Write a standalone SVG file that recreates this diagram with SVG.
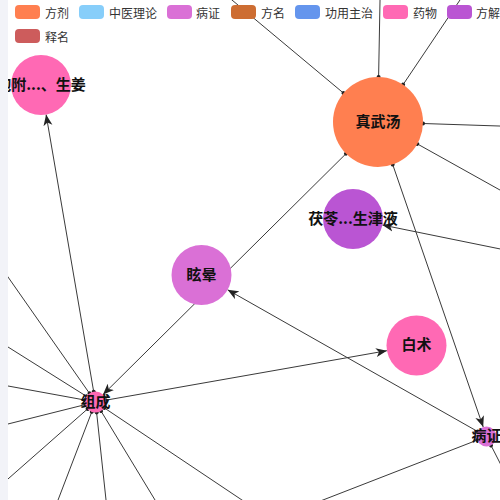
<svg xmlns="http://www.w3.org/2000/svg" width="500" height="500" viewBox="0 0 500 500">
  <style>
    .edge { stroke: #3a3a3a; stroke-width: 1; fill: none; }
    .lbl { font-family: "Noto Sans CJK SC", "Noto Sans", sans-serif; font-size: 15px; font-weight: bold; fill: #111; text-anchor: middle; dominant-baseline: central; }
    .lg { font-family: "Noto Sans CJK SC", "Noto Sans", sans-serif; font-size: 12px; fill: #333; dominant-baseline: central; }
  </style>
  <defs>
    <marker id="arrow" viewBox="-11 -5 12 10" refX="0" refY="0" markerWidth="12" markerHeight="10" markerUnits="userSpaceOnUse" orient="auto">
      <path d="M0,0 L-11,-4.5 L-8,0 L-11,4.5 Z" fill="#222"/>
    </marker>
    <marker id="dot" viewBox="-3 -3 6 6" refX="0" refY="0" markerWidth="6" markerHeight="6" markerUnits="userSpaceOnUse" orient="auto">
      <circle cx="0" cy="0" r="2" fill="#222"/>
    </marker>
  </defs>
  <rect x="0" y="0" width="500" height="500" fill="#ffffff"/>

  <g id="connectors">
    <path class="edge" marker-start="url(#dot)" marker-end="url(#arrow)" d="M346.0,153.7 L103.0,394.6"/>
    <path class="edge" marker-start="url(#dot)" marker-end="url(#arrow)" d="M105.8,400.2 L386.9,350.7"/>
    <path class="edge" marker-start="url(#dot)" marker-end="url(#arrow)" d="M93.7,391.7 L46.1,114.6"/>
    <path class="edge" marker-start="url(#dot)" marker-end="url(#arrow)" d="M477.8,431.6 L227.6,289.8"/>
    <path class="edge" marker-start="url(#dot)" marker-end="url(#arrow)" d="M392.7,164.5 L483.2,427.0"/>
    <path class="edge" marker-end="url(#arrow)" d="M520,253 L382.4,225"/>
    <path class="edge" marker-start="url(#dot)" d="M343.5,93.1 L220,-10"/>
    <path class="edge" marker-start="url(#dot)" d="M378.6,77 L380.2,-10"/>
    <path class="edge" marker-start="url(#dot)" d="M403.1,84.6 L466.7,-10"/>
    <path class="edge" marker-start="url(#dot)" d="M423,123.5 L520,126.7"/>
    <path class="edge" marker-start="url(#dot)" d="M417.3,143.9 L520,201.2"/>
    <path class="edge" marker-start="url(#dot)" d="M89.5,393.4 L-10,251.3"/>
    <path class="edge" marker-start="url(#dot)" d="M86.6,396.4 L-10,335.7"/>
    <path class="edge" marker-start="url(#dot)" d="M85.2,400.1 L-10,382.7"/>
    <path class="edge" marker-start="url(#dot)" d="M85.3,404.6 L-10,428.5"/>
    <path class="edge" marker-start="url(#dot)" d="M87.6,408.9 L-10,494.8"/>
    <path class="edge" marker-start="url(#dot)" d="M91.8,411.8 L54.2,510"/>
    <path class="edge" marker-start="url(#dot)" d="M96.6,412.4 L107.1,510"/>
    <path class="edge" marker-start="url(#dot)" d="M101,411 L161.1,510"/>
    <path class="edge" marker-start="url(#dot)" d="M104.2,407.8 L256.9,510"/>
    <path class="edge" marker-start="url(#dot)" d="M477.2,440.1 L297.2,510"/>
    <path class="edge" marker-start="url(#dot)" d="M491,445.4 L520,502.2"/>
  </g>

  <g id="node-zhenwutang">
    <circle cx="378" cy="122" r="45" fill="#FF7F50"/>
    <text class="lbl" x="378" y="120">真武汤</text>
  </g>
  <g id="node-fuling">
    <circle cx="353" cy="219" r="30" fill="#BA55D3"/>
    <text class="lbl" x="353" y="217">茯苓...生津液</text>
  </g>
  <g id="node-fuzi">
    <circle cx="41" cy="85" r="30" fill="#FF69B4"/>
    <text class="lbl" x="41" y="83">炮附...、生姜</text>
  </g>
  <g id="node-xuanyun">
    <circle cx="201.5" cy="275" r="30" fill="#DA70D6"/>
    <text class="lbl" x="201.5" y="273">眩晕</text>
  </g>
  <g id="node-baizhu">
    <circle cx="416.5" cy="345.5" r="30" fill="#FF69B4"/>
    <text class="lbl" x="416.5" y="343.5">白术</text>
  </g>
  <g id="node-zucheng">
    <circle cx="95.5" cy="402" r="10.5" fill="#FF69B4"/>
    <text class="lbl" x="95.5" y="400">组成</text>
  </g>
  <g id="node-bingzheng">
    <circle cx="486.5" cy="436.5" r="10" fill="#DA70D6"/>
    <text class="lbl" x="486.5" y="434.5">病证</text>
  </g>

  <rect x="0" y="0" width="8" height="500" fill="#f2f3f8"/>

  <g id="legend">
    <rect x="15" y="5" width="25" height="14" rx="4" fill="#FF7F50"/>
    <text class="lg" x="45" y="12">方剂</text>
    <rect x="79" y="5" width="25" height="14" rx="4" fill="#87CEFA"/>
    <text class="lg" x="109" y="12">中医理论</text>
    <rect x="167" y="5" width="25" height="14" rx="4" fill="#DA70D6"/>
    <text class="lg" x="196" y="12">病证</text>
    <rect x="231" y="5" width="25" height="14" rx="4" fill="#CD6D32"/>
    <text class="lg" x="261" y="12">方名</text>
    <rect x="295" y="5" width="25" height="14" rx="4" fill="#6495ED"/>
    <text class="lg" x="325" y="12">功用主治</text>
    <rect x="383" y="5" width="25" height="14" rx="4" fill="#FF69B4"/>
    <text class="lg" x="413" y="12">药物</text>
    <rect x="447" y="5" width="25" height="14" rx="4" fill="#BA55D3"/>
    <text class="lg" x="476" y="12">方解</text>
    <rect x="15" y="29" width="25" height="14" rx="4" fill="#CD5C5C"/>
    <text class="lg" x="45" y="36">释名</text>
  </g>
</svg>
